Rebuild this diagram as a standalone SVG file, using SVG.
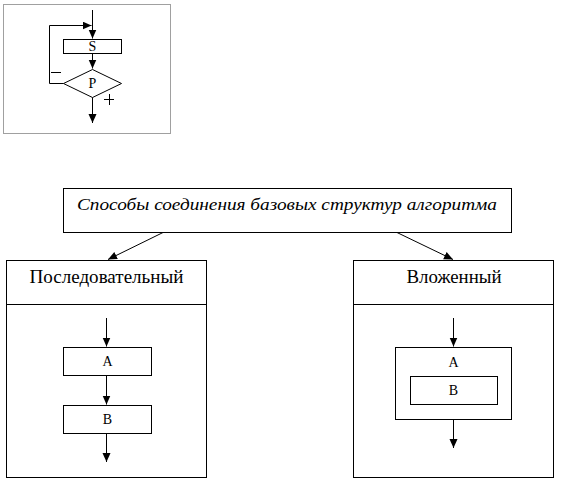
<svg xmlns="http://www.w3.org/2000/svg" width="561" height="484" viewBox="0 0 561 484">
<defs>
<marker id="ah" markerWidth="10" markerHeight="10" refX="9" refY="4" orient="auto" markerUnits="userSpaceOnUse">
<path d="M0,0 L9,4 L0,8 Z" fill="#000"/>
</marker>
<style>
.b{fill:#fff;stroke:#000;stroke-width:1}
.c{fill:none;stroke:#000;stroke-width:1}
.m{font-family:"Liberation Serif","Times New Roman",serif;font-size:14px;text-anchor:middle;fill:#000}
.t{font-family:"Liberation Serif","Times New Roman",serif;font-size:18px;text-anchor:middle;fill:#000}
.i{font-family:"Liberation Serif","Times New Roman",serif;font-size:17px;font-style:italic;fill:#000}
.s{font-family:"Liberation Sans",Arial,sans-serif;font-size:15px;text-anchor:middle;fill:#000}
</style>
</defs>
<rect width="561" height="484" fill="#fff"/>
<g id="loop">
<rect x="3.5" y="4.5" width="167" height="129" fill="#fff" stroke="#a0a0a0"/>
<rect class="b" x="63.5" y="39.5" width="58" height="14"/>
<text class="m" x="92.5" y="51">S</text>
<path class="b" d="M63.5,83.5 L92.5,69.5 L121.5,83.5 L92.5,97.5 Z"/>
<text class="m" x="92.5" y="88">P</text>
<path class="c" d="M92.5,10 V38.5" marker-end="url(#ah)"/>
<path class="c" d="M92.5,53.5 V68.5" marker-end="url(#ah)"/>
<path class="c" d="M63.5,83.5 H49.5 V25.5 H91.5" marker-end="url(#ah)"/>
<path class="c" d="M92.5,97.5 V123" marker-end="url(#ah)"/>
<line class="c" x1="51" y1="72.5" x2="61" y2="72.5"/>
<line class="c" x1="104" y1="99.5" x2="114" y2="99.5"/>
<line class="c" x1="109.5" y1="94" x2="109.5" y2="105"/>
</g>
<g id="root">
<rect class="b" x="63.5" y="188.5" width="448" height="44"/>
<text class="i" x="77" y="210" textLength="420" lengthAdjust="spacingAndGlyphs">Способы соединения базовых структур алгоритма</text>
</g>
<g id="connectors">
<path class="c" d="M163,232.5 L108,259.5" marker-end="url(#ah)"/>
<path class="c" d="M397,232.5 L453,259.5" marker-end="url(#ah)"/>
</g>
<g id="sequential">
<rect class="b" x="6.5" y="260.5" width="200" height="217"/>
<line class="c" x1="6.5" y1="304.5" x2="206.5" y2="304.5"/>
<text class="t" x="106.5" y="283" textLength="154" lengthAdjust="spacingAndGlyphs">Последовательный</text>
<path class="c" d="M106.5,318 V346.5" marker-end="url(#ah)"/>
<rect class="b" x="63.5" y="347.5" width="88" height="28"/>
<text class="m" x="107.5" y="366">A</text>
<path class="c" d="M106.5,375.5 V404.5" marker-end="url(#ah)"/>
<rect class="b" x="63.5" y="405.5" width="88" height="28"/>
<text class="m" x="107.5" y="424">B</text>
<path class="c" d="M106.5,433.5 V462" marker-end="url(#ah)"/>
</g>
<g id="nested">
<rect class="b" x="353.5" y="260.5" width="200" height="217"/>
<line class="c" x1="353.5" y1="304.5" x2="553.5" y2="304.5"/>
<text class="t" x="454" y="283" textLength="95" lengthAdjust="spacingAndGlyphs">Вложенный</text>
<path class="c" d="M453.5,318 V346.5" marker-end="url(#ah)"/>
<rect class="b" x="395.5" y="347.5" width="116" height="72"/>
<text class="m" x="453.5" y="367">A</text>
<rect class="b" x="410.5" y="376.5" width="87" height="28"/>
<text class="m" x="453.5" y="395">B</text>
<path class="c" d="M453.5,419.5 V448" marker-end="url(#ah)"/>
</g>
</svg>
